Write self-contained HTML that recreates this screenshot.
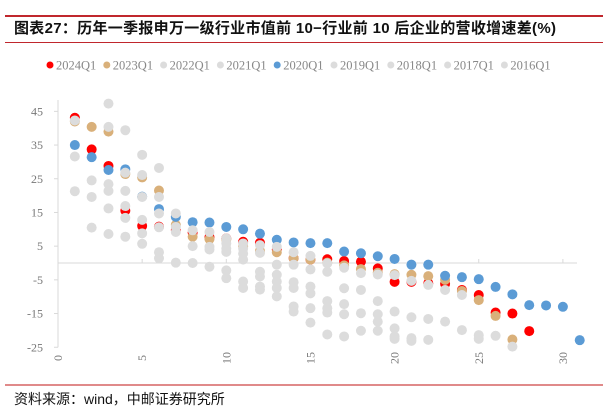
<!DOCTYPE html>
<html><head><meta charset="utf-8"><style>
body{margin:0;background:#fff;width:603px;height:400px;overflow:hidden;font-family:"Liberation Serif","Noto Serif CJK SC",serif}
.t{position:absolute;left:14px;top:17px;font:bold 15px "Liberation Sans","Noto Sans CJK SC",sans-serif;color:#111;letter-spacing:0.3px}
</style></head><body>
<div style="position:absolute;left:5px;top:15px;width:598px;height:2px;background:#c0272d"></div>
<div class="t">图表27：历年一季报申万一级行业市值前 10−行业前 10 后企业的营收增速差(%)</div>
<div style="position:absolute;left:5px;top:42px;width:598px;height:1px;background:#c0272d"></div>
<svg id="c" width="603" height="400" style="position:absolute;left:0;top:0"></svg>
<div style="position:absolute;left:5px;top:384px;width:598px;height:2px;background:#e08a8a"></div>
<div style="position:absolute;left:14px;top:389px;font:14px 'Liberation Sans','Noto Sans CJK SC',sans-serif;color:#111">资料来源：wind，中邮证券研究所</div>
<script>
const xTicks=[0,5,10,15,20,25,30];
const yTicks=[45,35,25,15,5,-5,-15,-25];
const seriesNames=["2024Q1","2023Q1","2022Q1","2021Q1","2020Q1","2019Q1","2018Q1","2017Q1","2016Q1"];
const s2024=[43.1,33.7,28.8,15.5,11,10.8,9.8,9,7.7,7.3,6.3,6,4,1.4,1,1.1,0.6,0.4,-1.6,-5.6,-5.6,-6,-6.2,-8,-9.5,-14.7,-15,-20.2];
const s2023=[42,40.4,39,26.4,25.4,21.5,11.3,7.8,7.1,7,5,3.6,3.2,1.4,1,0.1,-0.7,-1.8,-2.9,-3.3,-3.5,-3.9,-5,-8.3,-11,-15.7,-22.7];
const s2020=[35,31.4,27.6,27.8,19.7,16,13.7,12.1,12,10.7,10,8.7,6.9,6.1,5.9,5.9,3.4,2.9,2,1.2,-0.5,-0.5,-3.8,-4.2,-4.8,-7.1,-9.3,-12.5,-12.6,-13,-22.9];
const grayX=[
[1,1,1],[2,2,2],[3,3,3,3,3,3],[4,4,4,4,4,4],[5,5,5,5,5,5],[6,6,6,6,6,6],[7,7,7,7],[8,8,8],[9,9,9,9],[10,10,10,10,10,10],[11,11,11,11,11,11],[12,12,12,12,12,12],[13,13,13,13,13,13],[14,14,14,14,14,14],[15,15,15,15,15,15],[16,16,16,16,16,16],[17,17,17,17,17],[18,18,18,18],[19,19,19,19,19],[20,20,20,20,20],[21,21,21,21],[22,22,22],[23,23],[24,24],[25,25],[26],[27]];
const grayY=[
[42.3,31.6,21.3],[24.5,19.6,10.5],[47.3,40.4,23.4,21.4,16.2,8.6],[39.4,26.8,21.4,16.9,13.4,7.8],[32.1,26.1,19.6,12.8,8.8,5.7],[28.2,19.6,14.7,10.6,3.2,1.4],[14.7,10.7,9.2,0.1],[9.7,5,0],[9.2,4.8,4,-1.1],[7.3,5.8,4.3,3.3,-2.2,-4.5],[5.8,4.3,2.8,1,-5.5,-7.4],[5.3,3,-2.6,-4,-7,-7.9],[4.8,-0.5,-3.5,-5.5,-7.4,-9.9],[3.2,-0.5,-5.7,-7.4,-12.9,-14.4],[2.1,-1.9,-7,-9,-13.4,-17.7],[-0.1,-2.6,-11.3,-13.4,-14.7,-21.2],[-1.4,-7.5,-12.2,-15.2,-21.8],[-3,-8,-14.9,-20.1],[-3.4,-11.3,-15.2,-17.4,-20.1],[-3.6,-14.4,-19.4,-21.8,-22.5],[-5.3,-16.1,-22.3,-23.1],[-6.5,-16.6,-22.8],[-8,-17.4],[-9.5,-19.9],[-21.4,-22.5],[-21.6],[-24.8]];
const X=v=>58+v*16.83, Y=v=>263-v*3.37;
const svg=document.getElementById('c'),NS="http://www.w3.org/2000/svg";
function mk(t,a,p){const e=document.createElementNS(NS,t);for(const k in a)e.setAttribute(k,a[k]);(p||svg).appendChild(e);return e;}
let ax=mk('line',{x1:58,y1:100,x2:58,y2:Y(-25),stroke:'#d9d9d9'});


let zl=mk('line',{x1:58,y1:Y(0),x2:577,y2:Y(0),stroke:'#d9d9d9'});


yTicks.forEach(v=>{mk('line',{x1:54,y1:Y(v),x2:58,y2:Y(v),stroke:'#d9d9d9'});
 const t=mk('text',{x:43,y:Y(v)+4,'text-anchor':'end','font-size':12,fill:'#777'});t.textContent=v;
 
 });
xTicks.forEach(v=>{mk('line',{x1:X(v),y1:Y(0)-4,x2:X(v),y2:Y(0),stroke:'#d9d9d9'});
 const t=mk('text',{x:0,y:0,'text-anchor':'middle','font-size':12,fill:'#777',transform:`translate(${X(v)+4},${358}) rotate(-90)`});t.textContent=v;
 
 });
const grey='#dcdcdc';
function ser(arr,col,name){arr.forEach((v,i)=>{const c=mk('circle',{cx:X(i+1),cy:Y(v),r:5,fill:col});
 
 });}
ser(s2024,'#ff0000','2024Q1');
ser(s2023,'#d9b07a','2023Q1');
ser(s2020,'#5b9bd5','2020Q1');
for(let i=0;i<grayX.length;i++)for(let j=0;j<grayX[i].length;j++){
 const c=mk('circle',{cx:X(grayX[i][j]),cy:Y(grayY[i][j]),r:5,fill:grey});
 
 }
const lc=['#ff0000','#d9b07a',grey,grey,'#5b9bd5',grey,grey,grey,grey];
seriesNames.forEach((n,i)=>{const x=50+i*56.8;
 const c=mk('circle',{cx:x,cy:65,r:3.5,fill:lc[i]});
 
 
 const t=mk('text',{x:x+6,y:69.5,'font-size':12.5,fill:'#888'});t.textContent=n;
 
 });
</script>
</body></html>
